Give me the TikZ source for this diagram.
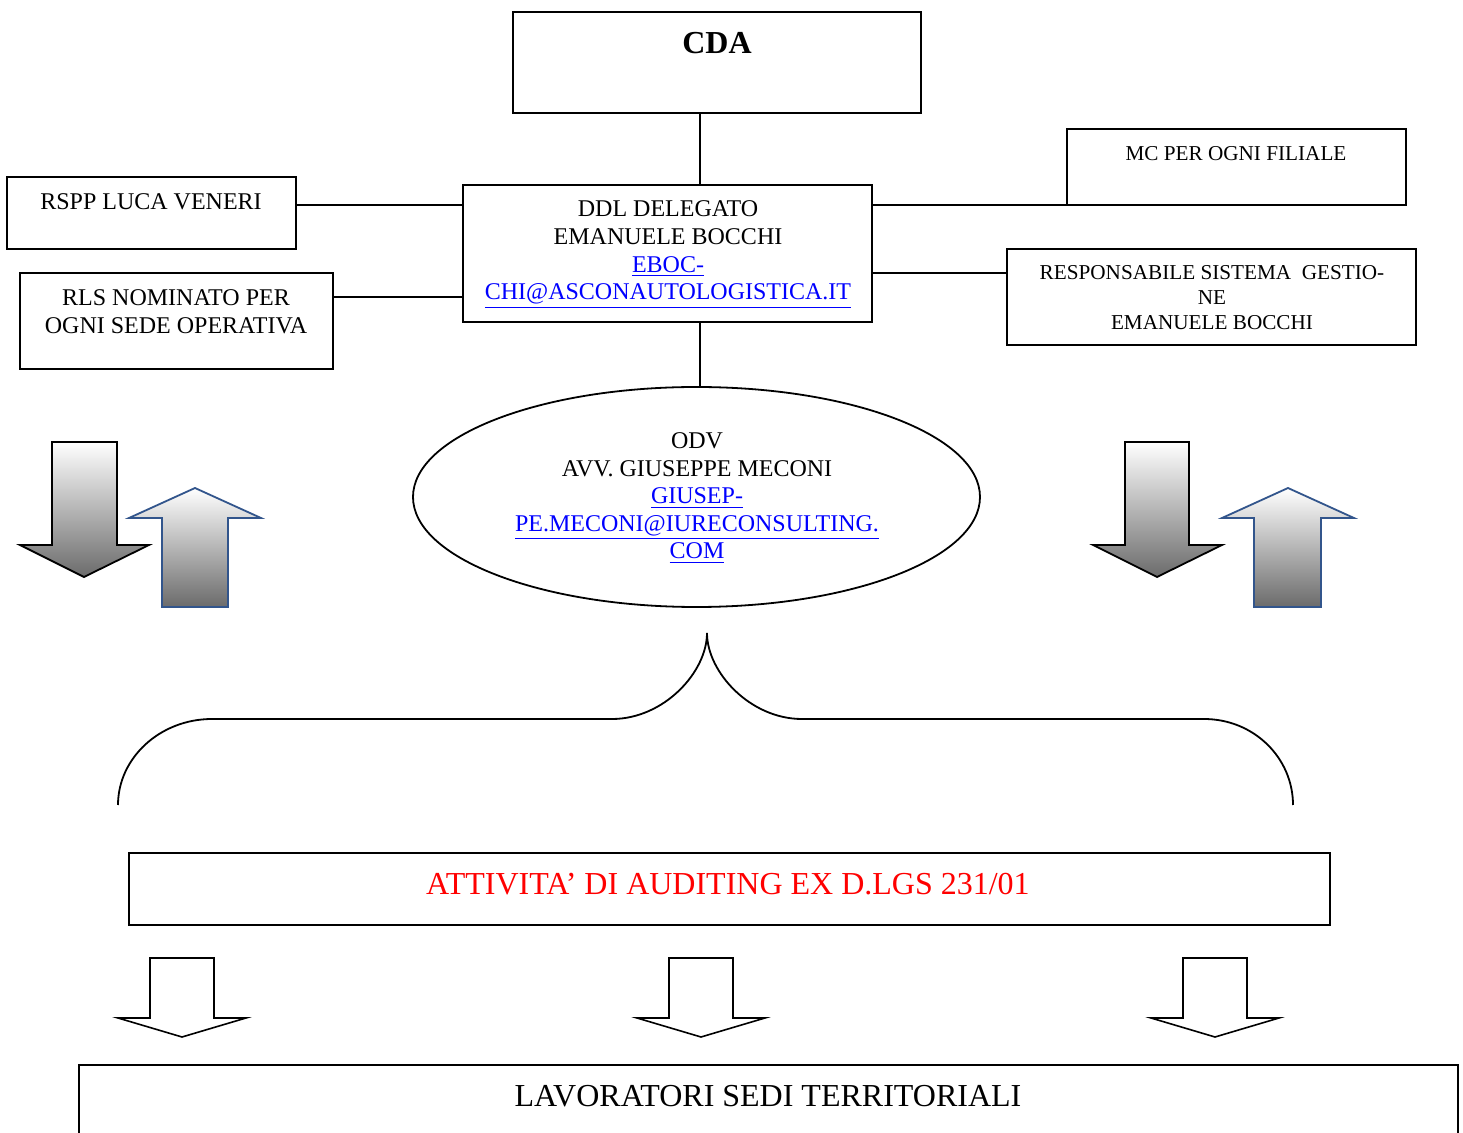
\documentclass[tikz,border=0pt]{standalone}
\usepackage{fontspec}
\setmainfont{Liberation Serif}
\usetikzlibrary{shapes.geometric,calc}
\definecolor{linkblue}{RGB}{0,0,255}
\definecolor{arrblue}{RGB}{50,85,140}
\definecolor{audred}{RGB}{255,0,0}
\newcommand{\lnk}[1]{\textcolor{linkblue}{\underline{#1}}}
\begin{document}
\begin{tikzpicture}[x=0.5pt,y=-0.5pt,line width=0.9pt,
  box/.style={draw,rectangle,inner sep=0pt,outer sep=0pt},
  txt/.style={inner sep=0pt,outer sep=0pt,anchor=north,align=center},
  mid/.style={font=\fontsize{12}{13.85}\selectfont},
  small/.style={font=\fontsize{10.6}{12.5}\selectfont},
  big/.style={font=\fontsize{16}{19}\selectfont},
  gshade/.style={top color=white,middle color=black!22,bottom color=black!58},
  whitearrow/.style={draw=black,fill=white,line width=0.8pt,line join=miter}]
\useasboundingbox (0,0) rectangle (1463,1133);
\clip (0,0) rectangle (1463,1133);

% boxes
\node[box,minimum width=204pt,minimum height=50.5pt] (cda) at (717,62.5) {};
\node[box,minimum width=204.5pt,minimum height=68.5pt] (ddl) at (667.5,253.5) {};
\node[box,minimum width=144.5pt,minimum height=36pt] (rspp) at (151.5,213) {};
\node[box,minimum width=156.5pt,minimum height=48pt] (rls) at (176.5,321) {};
\node[box,minimum width=169.5pt,minimum height=38pt] (mc) at (1236.5,167) {};
\node[box,minimum width=204.5pt,minimum height=48pt] (resp) at (1211.5,297) {};
\node[draw,ellipse,inner sep=0pt,outer sep=0pt,minimum width=283.5pt,minimum height=110pt] (odv) at (696.5,497) {};
\node[box,minimum width=600.5pt,minimum height=36pt] (aud) at (729.5,889) {};
\node[box,minimum width=689.5pt,minimum height=37.5pt] (lav) at (768.5,1102.5) {};

% texts
\node[txt,font=\fontsize{16}{19}\selectfont\bfseries] (tcda) at (717,32) {CDA};
\node[txt,mid] (tddl) at (668,201) {DDL DELEGATO\\EMANUELE BOCCHI\\\lnk{EBOC-}\\\lnk{CHI@ASCONAUTOLOGISTICA.IT}};
\node[txt,mid] (trspp) at (151,194) {RSPP LUCA VENERI};
\node[txt,mid] (trls) at (176,290) {RLS NOMINATO PER\\OGNI SEDE OPERATIVA};
\node[txt,small] (tmc) at (1236,146) {MC PER OGNI FILIALE};
\node[txt,small] (tresp) at (1212,265) {RESPONSABILE SISTEMA\ \ GESTIO-\\NE\\EMANUELE BOCCHI};
\node[txt,font=\fontsize{12}{13.75}\selectfont] (todv) at (697,433) {ODV\\AVV. GIUSEPPE MECONI\\\lnk{GIUSEP-}\\\lnk{PE.MECONI@IURECONSULTING.}\\\lnk{COM}};
\node[txt,big,text=audred] (taud) at (728,873) {ATTIVITA’ DI AUDITING EX D.LGS 231/01};
\node[txt,big] (tlav) at (768,1085) {LAVORATORI SEDI TERRITORIALI};

% connectors
\draw (cda.south -| 700,0) -- (ddl.north -| 700,0);
\draw (ddl.south -| 700,0) -- (odv.north -| 700,0);
\draw (rspp.east |- 0,205) -- (ddl.west |- 0,205);
\draw (rls.east |- 0,297) -- (ddl.west |- 0,297);
\draw (ddl.east |- 0,205) -- (mc.west |- 0,205);
\draw (ddl.east |- 0,273) -- (resp.west |- 0,273);

% gradient arrows
\draw[gshade,draw=black,line join=miter] (52,442) -- (117,442) -- (117,545) -- (149,545) -- (84,577) -- (20,545) -- (52,545) -- cycle;
\draw[gshade,draw=arrblue,line join=miter] (195,488) -- (261,518) -- (228,518) -- (228,607) -- (162,607) -- (162,518) -- (129,518) -- cycle;
\draw[gshade,draw=black,line join=miter] (1125,442) -- (1189,442) -- (1189,545) -- (1222,545) -- (1157,577) -- (1093,545) -- (1125,545) -- cycle;
\draw[gshade,draw=arrblue,line join=miter] (1288,488) -- (1354,518) -- (1321,518) -- (1321,607) -- (1254,607) -- (1254,518) -- (1222,518) -- cycle;

% brace
\draw (118,805) .. controls (118,758) and (160,719) .. (212,719) -- (612,719)
  .. controls (664,719) and (707,672) .. (707,633)
  .. controls (707,672) and (750,719) .. (802,719) -- (1204,719)
  .. controls (1254,719) and (1293,758) .. (1293,805);

% white arrows
\draw[whitearrow] (150,958) -- (214,958) -- (214,1018) -- (246,1018) -- (182,1037) -- (118,1018) -- (150,1018) -- cycle;
\draw[whitearrow] (669,958) -- (733,958) -- (733,1018) -- (765,1018) -- (701,1037) -- (637,1018) -- (669,1018) -- cycle;
\draw[whitearrow] (1183,958) -- (1247,958) -- (1247,1018) -- (1279,1018) -- (1215,1037) -- (1151,1018) -- (1183,1018) -- cycle;
\end{tikzpicture}
\end{document}
